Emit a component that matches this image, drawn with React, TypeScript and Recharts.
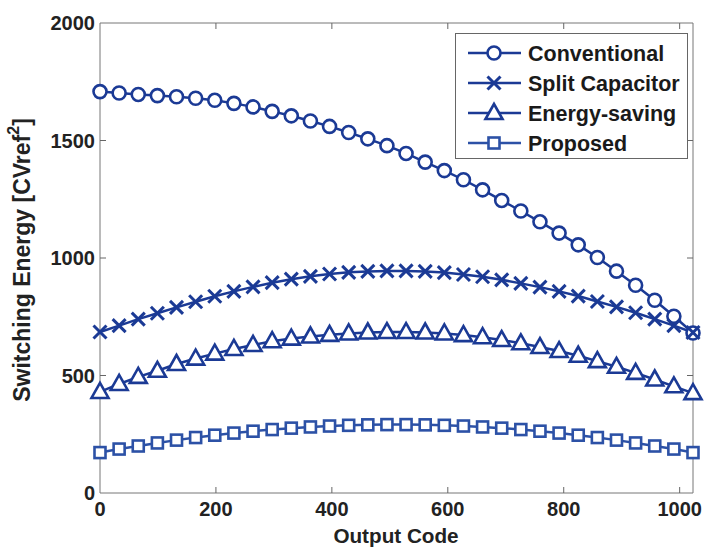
import React from "react";
import { LineChart, Line, XAxis, YAxis, ReferenceArea } from "recharts";

const codes = [
  0, 33, 66, 99, 132, 165, 198, 231, 264, 297, 330, 363, 396, 429, 462, 495,
  528, 561, 594, 627, 660, 693, 726, 759, 792, 825, 858, 891, 924, 957, 990, 1023,
];
const conventional = [
  1708, 1702, 1696, 1691, 1686, 1680, 1671, 1658, 1643, 1624, 1605, 1583, 1560, 1534, 1507, 1478,
  1445, 1408, 1372, 1333, 1290, 1245, 1200, 1154, 1106, 1056, 1002, 944, 884, 820, 752, 681,
];
const splitCapacitor = [
  685, 712, 740, 765, 790, 814, 837, 858, 877, 895, 910, 922, 932, 939, 943, 945,
  945, 943, 938, 930, 920, 907, 892, 876, 858, 838, 815, 792, 767, 740, 712, 683,
];
const energySaving = [
  430, 464, 494, 520, 549, 572, 593, 613, 630, 646, 657, 666, 673, 679, 683, 685,
  685, 683, 679, 672, 663, 651, 637, 621, 604, 584, 561, 537, 511, 483, 454, 425,
];
const proposed = [
  172, 187, 200, 213, 225, 236, 246, 255, 263, 270, 276, 281, 285, 288, 290, 291,
  291, 290, 288, 285, 281, 276, 270, 263, 255, 246, 236, 225, 213, 200, 187, 172,
];
const xTicks = [0, 200, 400, 600, 800, 1000];
const yTicks = [0, 500, 1000, 1500, 2000];

const data = codes.map((c, i) => ({
  code: c,
  conventional: conventional[i],
  split: splitCapacitor[i],
  saving: energySaving[i],
  proposed: proposed[i],
}));

const DARK = "#1b3a95";
const LIGHT = "#2c51a6";
const FONT = "'Liberation Sans', Arial, sans-serif";
const PLOT = { left: 100, right: 693, top: 23, bottom: 493 };

type Shape = "circle" | "cross" | "triangle" | "square";

function marker(shape: Shape, cx: number, cy: number, color: string, key?: string) {
  if (shape === "circle") {
    return <circle key={key} cx={cx} cy={cy} r={6.5} fill="#fff" stroke={color} strokeWidth={2.6} />;
  }
  if (shape === "cross") {
    return (
      <g key={key} stroke={color} strokeWidth={3}>
        <line x1={cx - 6.5} y1={cy - 6.5} x2={cx + 6.5} y2={cy + 6.5} />
        <line x1={cx - 6.5} y1={cy + 6.5} x2={cx + 6.5} y2={cy - 6.5} />
      </g>
    );
  }
  if (shape === "triangle") {
    return (
      <polygon
        key={key}
        points={`${cx},${cy - 9} ${cx - 8.5},${cy + 6} ${cx + 8.5},${cy + 6}`}
        fill="#fff"
        stroke={color}
        strokeWidth={2.6}
      />
    );
  }
  return <rect key={key} x={cx - 5.5} y={cy - 5.5} width={11} height={11} fill="#fff" stroke={color} strokeWidth={2.6} />;
}

const dotFor = (shape: Shape, color: string) => (props: any) =>
  marker(shape, props.cx, props.cy, color, `${shape}-${props.index}`);

const XTick = (props: any) => {
  const { x, payload } = props;
  const inner = payload.value > 0;
  return (
    <g>
      <text x={x} y={516} textAnchor="middle" fontFamily={FONT} fontWeight="bold" fontSize={20} fill="#222">
        {payload.value}
      </text>
      {inner && (
        <g stroke="#666" strokeWidth={1}>
          <line x1={x} x2={x} y1={PLOT.bottom} y2={PLOT.bottom - 6} />
          <line x1={x} x2={x} y1={PLOT.top} y2={PLOT.top + 6} />
        </g>
      )}
    </g>
  );
};

const YTick = (props: any) => {
  const { y, payload } = props;
  const inner = payload.value > 0 && payload.value < 2000;
  return (
    <g>
      <text x={95} y={y} dy="0.36em" textAnchor="end" fontFamily={FONT} fontWeight="bold" fontSize={20} fill="#222">
        {payload.value}
      </text>
      {inner && (
        <g stroke="#666" strokeWidth={1}>
          <line x1={PLOT.left} x2={PLOT.left + 6} y1={y} y2={y} />
          <line x1={PLOT.right - 6} x2={PLOT.right} y1={y} y2={y} />
        </g>
      )}
    </g>
  );
};

const XTitle = () => (
  <text x={396} y={543} textAnchor="middle" fontFamily={FONT} fontWeight="bold" fontSize={20.7} fill="#222">
    Output Code
  </text>
);

const YTitle = () => (
  <text
    x={22}
    y={260}
    transform="rotate(-90, 22, 260)"
    textAnchor="middle"
    dominantBaseline="central"
    fontFamily={FONT}
    fontWeight="bold"
    fontSize={23}
    fill="#222"
  >
    Switching Energy [CVref
    <tspan fontSize={16} dy={-9}>2</tspan>
    <tspan dy={9}>]</tspan>
  </text>
);

const legendItems: { name: string; shape: Shape; color: string }[] = [
  { name: "Conventional", shape: "circle", color: DARK },
  { name: "Split Capacitor", shape: "cross", color: DARK },
  { name: "Energy-saving", shape: "triangle", color: DARK },
  { name: "Proposed", shape: "square", color: LIGHT },
];

const LegendBox = () => (
  <div
    style={{
      position: "absolute",
      left: 455,
      top: 33,
      width: 231,
      height: 124,
      border: "1px solid #666",
      background: "#fff",
    }}
  >
    <svg width={231} height={124} style={{ display: "block" }}>
      {legendItems.map((it, i) => {
        const cy = 19 + i * 30;
        return (
          <g key={it.name}>
            <line x1={12} x2={65} y1={cy} y2={cy} stroke={it.color} strokeWidth={2.5} />
            {marker(it.shape, 38, cy, it.color)}
            <text x={72} y={cy} dy="0.36em" fontFamily={FONT} fontWeight="bold" fontSize={21.5} fill="#1a1a1a">
              {it.name}
            </text>
          </g>
        );
      })}
    </svg>
  </div>
);

export default function App() {
  return (
    <div style={{ position: "absolute", left: 0, top: 0, width: 705, height: 550, background: "#fff" }}>
      <LineChart
        width={705}
        height={550}
        data={data}
        margin={{ top: PLOT.top, right: 705 - PLOT.right, bottom: 0, left: 0 }}
      >
        <XAxis
          dataKey="code"
          type="number"
          domain={[0, 1023]}
          ticks={xTicks}
          tick={<XTick />}
          tickLine={false}
          axisLine={false}
          height={550 - PLOT.bottom}
          label={{ value: "Output Code", content: () => <XTitle /> }}
        />
        <YAxis
          type="number"
          domain={[0, 2000]}
          ticks={yTicks}
          tick={<YTick />}
          tickLine={false}
          axisLine={false}
          width={100}
          label={{ value: "Switching Energy", content: () => <YTitle /> }}
        />
        <ReferenceArea x1={0} x2={1023} y1={0} y2={2000} fill="none" stroke="#777" strokeWidth={1} />
        <Line dataKey="conventional" stroke={DARK} strokeWidth={2.5} dot={dotFor("circle", DARK)} isAnimationActive={false} />
        <Line dataKey="split" stroke={DARK} strokeWidth={2.5} dot={dotFor("cross", DARK)} isAnimationActive={false} />
        <Line dataKey="saving" stroke={DARK} strokeWidth={2.5} dot={dotFor("triangle", DARK)} isAnimationActive={false} />
        <Line dataKey="proposed" stroke={LIGHT} strokeWidth={2.5} dot={dotFor("square", LIGHT)} isAnimationActive={false} />
      </LineChart>
      <LegendBox />
    </div>
  );
}
